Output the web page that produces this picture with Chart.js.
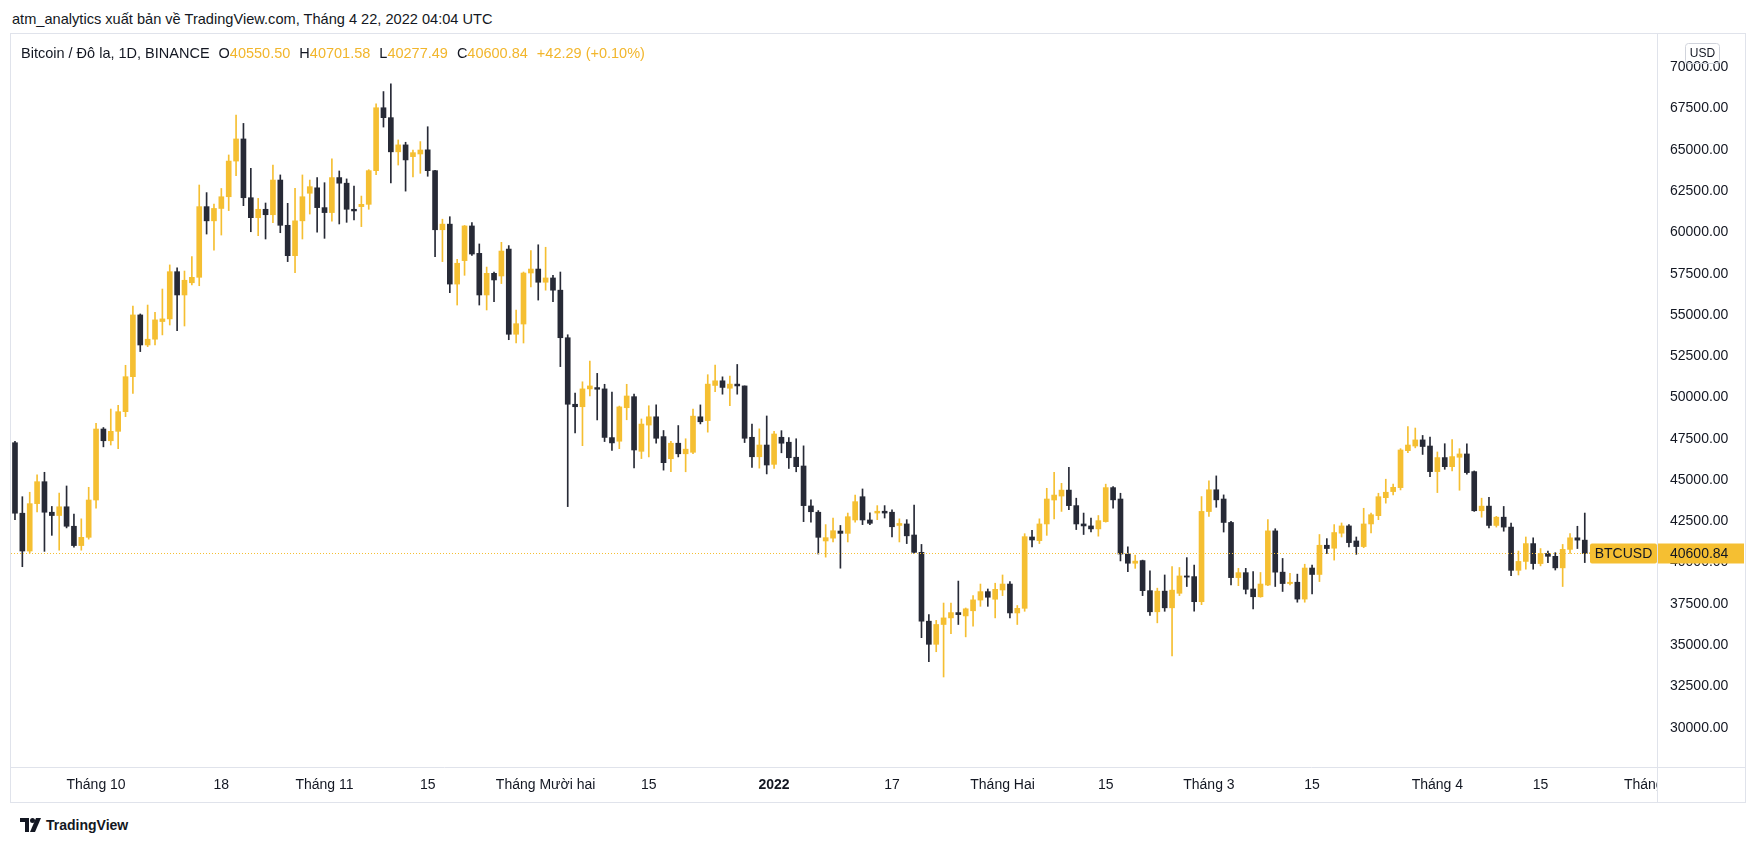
<!DOCTYPE html>
<html>
<head>
<meta charset="utf-8">
<script src="https://cdn.jsdelivr.net/npm/chart.js@4.4.1/dist/chart.umd.min.js"></script>
<style>
  html, body { margin: 0; padding: 0; background: #fff; }
  body { width: 1758px; height: 847px; position: relative; overflow: hidden;
         font-family: "Liberation Sans", Arial, sans-serif; color: #131722; }
  #header { position: absolute; left: 12px; top: 11px; font-size: 14.6px; white-space: nowrap; }
  #frame { position: absolute; left: 10px; top: 33px; width: 1736px; height: 770px;
           border: 1px solid #e0e3eb; box-sizing: border-box; }
  #chartWrap { position: absolute; left: 0; top: 0; width: 1734px; height: 768px; }
  #legend { position: absolute; left: 10px; top: 11px; font-size: 14.5px; white-space: nowrap; }
  #legend .v { color: #f2b62c; }
  #legend .g { margin-left: 9px; }
  #footer { position: absolute; left: 20px; top: 817px; font-size: 14px; font-weight: bold; display: flex; align-items: center; }
  #footer svg { margin-right: 4px; }
</style>
</head>
<body>
<div id="header">atm_analytics xuất bản về TradingView.com, Tháng 4 22, 2022 04:04 UTC</div>
<div id="frame">
  <div id="chartWrap"><canvas id="chart" width="1734" height="768"></canvas></div>
  <div id="legend">Bitcoin / Đô la, 1D, BINANCE<span class="g">O<span class="v">40550.50</span></span><span class="g">H<span class="v">40701.58</span></span><span class="g">L<span class="v">40277.49</span></span><span class="g">C<span class="v">40600.84</span></span><span class="g v">+42.29 (+0.10%)</span></div>
</div>
<div id="footer"><svg width="22" height="14" viewBox="0 0 22 14"><path d="M0 0h9v14H5V4H0z" fill="#131722"/><circle cx="12.5" cy="2.5" r="2.5" fill="#131722"/><path d="M16 0h5l-6 14h-5z" fill="#131722"/></svg>TradingView</div>

<script>
// daily candles, BINANCE BTCUSD, 2021-09-20 .. 2022-04-22
const startDate = '2021-09-20';

const opens = [
  47260, 42990, 40700, 43570, 44900, 43050, 42850, 43380, 42200, 41030, 41530,
  43790, 48090, 47380, 47950, 49140, 51260, 55000, 53180, 53530, 54600, 54760, 57620, 56210, 56950, 57280, 61560, 60700, 61450, 62160, 64320, 65660, 62100, 60890, 61400, 61070, 63170, 60430, 58590, 60700, 62370, 62700,
  61500, 61200, 63320, 62980, 61400, 61560, 61700, 63740, 67550, 66950, 64880, 65300, 64590, 64750, 65000, 63740, 60160, 60500, 56870, 58290, 60390, 58730, 56210, 57520, 57360, 58990, 53830, 54450, 57540, 57780,
  56980, 57240, 56500, 53620, 49590, 49440, 50520, 50600, 50520, 47570, 47350, 49380, 50050, 46740, 48330, 48830, 47630, 46290, 47230, 46590, 46680, 48830, 48600, 50730, 51010, 50560, 50810, 50700, 47590, 46410, 47120,
  45950, 47590, 47290, 46380, 45850, 43430, 43050, 41310, 41480, 41910, 41770, 42580, 43990, 42580, 43000, 43110, 43050, 42250, 42340, 41670, 40620, 36450, 35050, 36250, 36650, 36970, 36770, 37080, 37730, 38240, 37780,
  38340, 38700, 36950, 37230, 41550, 41330, 42340, 43790, 44030, 44390, 43450, 42340, 42220, 42040, 42480, 44540, 43850, 40520, 39960, 40120, 38300, 37020, 38270, 37260, 38140, 39190, 39150, 37630,
  43090, 44410, 43850, 42430, 39090, 39390, 38400, 37930, 38640, 41920, 39420, 38730, 38810, 37790, 39670, 39280, 41050, 40870, 41780, 42220, 41310, 40970, 42340, 42840, 43930, 44300, 44540, 46780, 47060, 47430, 47060,
  45510, 46360, 45810, 46380, 46580, 45510, 43140, 43420, 42250, 42750, 42150, 39530, 40070, 41150, 39940, 40550, 40380, 39680, 40800, 41500, 41360, 40550.50
];
const highs = [
  47350, 43990, 44260, 45310, 45470, 43400, 44210, 44640, 42940, 42650, 44560,
  48440, 48180, 49300, 49530, 51950, 55540, 55060, 55600, 55160, 56570, 58030, 57860, 57660, 58530, 62870, 62410, 61720, 62660, 64690, 67110, 66600, 63880, 62060, 61780, 64080, 63480, 61760, 62670, 63480, 63170, 63320,
  63010, 64450, 63720, 63240, 62810, 62200, 63800, 67790, 68530, 69000, 65600, 65460, 64990, 65500, 66400, 63760, 60800, 60950, 58370, 60420, 60600, 59300, 57900, 57600, 59400, 59200, 55300, 57600, 58900, 59250,
  59100, 57400, 57600, 53800, 50270, 50950, 52210, 51460, 50800, 50330, 49480, 50800, 50200, 48700, 49500, 49550, 48000, 47350, 48300, 47500, 49300, 49550, 51380, 51970, 51250, 51300, 52000, 50700, 48390, 48100, 48880,
  47950, 47990, 47570, 47500, 47070, 43800, 43150, 42300, 42700, 42250, 43000, 44090, 44460, 43020, 43450, 43450, 43200, 42650, 42600, 43490, 41100, 36850, 36500, 37550, 37550, 38880, 37250, 38000, 38700, 38400, 38750,
  39250, 38850, 37400, 41750, 41950, 42650, 44500, 45470, 44800, 45770, 43900, 43000, 42700, 42850, 44750, 44600, 44200, 40950, 40450, 40150, 39500, 38450, 39250, 39760, 39700, 40300, 39850, 44000,
  44950, 45250, 44100, 42500, 39650, 39650, 39450, 39400, 42600, 42050, 40250, 39350, 39300, 39900, 39850, 41700, 41450, 42300, 42400, 42300, 41550, 43290, 43000, 44200, 45050, 44750, 46900, 48240, 48150, 47700, 47600,
  46700, 47200, 47450, 46900, 47200, 45550, 43900, 43950, 42800, 43400, 42400, 40700, 41550, 41500, 40850, 40700, 40600, 41100, 41750, 42200, 43000, 40701.58
];
const lows = [
  42600, 39750, 40570, 43070, 40680, 41650, 40750, 42100, 40930, 40750, 41420,
  43290, 47010, 47120, 46900, 48840, 50250, 52780, 53080, 53180, 53790, 54390, 54050, 54330, 56820, 56770, 59900, 58930, 59840, 61320, 63440, 61620, 60040, 59800, 59600, 60590, 59980, 58230, 57560, 59600, 61110, 60010,
  59640, 60680, 60510, 60610, 60750, 60350, 61400, 63500, 66380, 63000, 64080, 62500, 63360, 63580, 63400, 58530, 58230, 56350, 55600, 57400, 58600, 55600, 55300, 55800, 56900, 53500, 53300, 53300, 56700, 55900,
  56500, 55800, 51870, 43390, 47850, 47080, 50100, 48640, 47330, 46800, 46900, 48650, 45730, 46300, 46400, 47240, 45600, 45500, 46400, 45500, 46600, 48400, 47900, 50350, 50200, 49500, 50200, 47270, 45770, 45720, 45370,
  45700, 46650, 45700, 45500, 42480, 42450, 40520, 40330, 41250, 39660, 41250, 42450, 42300, 42290, 42600, 42700, 41550, 41250, 41150, 40550, 35450, 34000, 34600, 33070, 35700, 36250, 35500, 36150, 37350, 37350, 36650,
  38000, 36650, 36250, 37050, 40950, 41150, 41650, 42650, 43100, 43200, 42000, 41700, 41850, 41600, 42450, 43300, 40100, 39450, 39650, 38000, 36800, 36350, 37050, 34350, 38000, 38550, 37050, 37450,
  42800, 43350, 41850, 38650, 38600, 38100, 37200, 37900, 38600, 38550, 38250, 38650, 37600, 37600, 38100, 38850, 40550, 40150, 41550, 40950, 40500, 40900, 41800, 42600, 43600, 44100, 44400, 46650, 46950, 46550, 45200,
  44240, 45650, 45550, 44380, 45350, 43100, 42750, 42100, 42150, 41900, 39200, 39250, 39600, 39600, 39800, 39990, 39550, 38550, 40550, 40850, 40000, 40277.49
];
const closes = [
  42990, 40700, 43570, 44900, 43050, 42850, 43380, 42200, 41030, 41530, 43790,
  48090, 47380, 47950, 49140, 51260, 55000, 53180, 53530, 54700, 54760, 57620, 56210, 57100, 57280, 61560, 60700, 61450, 62160, 64320, 65660, 62100, 60890, 61400, 61070, 63170, 60430, 58590, 60700, 62160, 62770, 61500,
  61200, 63320, 62980, 61400, 61300, 61700, 63740, 67550, 66950, 64880, 65300, 64390, 64830, 64990, 63740, 60160, 60500, 56870, 58130, 60390, 58690, 56210, 57520, 57120, 58870, 53830, 54470, 57540, 57780, 56980,
  57240, 56500, 53620, 49590, 49440, 50520, 50700, 50500, 47580, 47250, 49430, 50090, 46820, 48390, 48830, 47530, 46050, 47230, 46590, 46870, 48870, 48530, 50810, 51010, 50610, 50810, 50700, 47530, 46410, 47120, 45910,
  47790, 47230, 46350, 45810, 43450, 43080, 41530, 41510, 41930, 41770, 42780, 43690, 42580, 42380, 43110, 43000, 42170, 42370, 41620, 40620, 36450, 35050, 36250, 36650, 36970, 36850, 37200, 37740, 38240, 37900, 38380,
  38700, 36950, 37230, 41570, 41370, 42340, 43850, 44090, 44390, 43450, 42340, 42220, 42040, 42540, 44540, 43800, 40520, 39960, 40090, 38300, 37020, 38270, 37260, 38330, 39190, 39120, 37630, 43100,
  44410, 43800, 42430, 39090, 39390, 38380, 37930, 38700, 41920, 39420, 38730, 38810, 37790, 39670, 39280, 41050, 40850, 41820, 42220, 41210, 40970, 42340, 42900, 43990, 44260, 44560, 46820, 47120, 47430, 47030, 45510,
  46360, 45810, 46420, 46580, 45450, 43140, 43420, 42250, 42750, 42150, 39530, 40070, 41150, 39940, 40550, 40380, 39680, 40800, 41500, 41360, 40550, 40600.84
];

// x axis labels (day index from startDate)
const xTickDays = [11, 28, 42, 56, 72, 86, 103, 119, 134, 148, 162, 176, 193, 207, 221.8];
const xTickLabels = ['Tháng 10', '18', 'Tháng 11', '15', 'Tháng Mười hai', '15', '2022', '17', 'Tháng Hai', '15', 'Tháng 3', '15', 'Tháng 4', '15', 'Tháng 5'];
// price axis labels
const yTicks = [30000, 32500, 35000, 37500, 40000, 42500, 45000, 47500, 50000, 52500, 55000, 57500, 60000, 62500, 65000, 67500, 70000];

const lastPrice = closes[closes.length - 1];
const symbolName = 'BTCUSD';

const UP = '#f5bf32';
const DOWN = '#272a36';
const AXIS_TEXT = '#131722';
const LINE = '#e0e3eb';
const FONT = '"Liberation Sans", Arial, sans-serif';
const LABEL_PAD = 13;

const wickData = [], bodyData = [], colors = [];
for (let i = 0; i < closes.length; i++) {
    wickData.push({ x: i, y: [lows[i], highs[i]] });
    bodyData.push({ x: i, y: [Math.min(opens[i], closes[i]), Math.max(opens[i], closes[i])] });
    colors.push(closes[i] >= opens[i] ? UP : DOWN);
}

// extra drawing: time labels (clipped like TradingView), last price line and labels
const overlay = {
    id: 'overlay',
    afterDraw(chart) {
        const ctx = chart.ctx;
        const area = chart.chartArea;
        const xs = chart.scales.x;
        const ys = chart.scales.y;

        // time axis labels
        ctx.save();
        ctx.beginPath();
        ctx.rect(area.left, area.bottom, area.right - area.left, chart.height - area.bottom);
        ctx.clip();
        ctx.fillStyle = AXIS_TEXT;
        ctx.textAlign = 'center';
        ctx.textBaseline = 'middle';
        xTickDays.forEach((d, k) => {
            const bold = xTickLabels[k] === '2022';
            ctx.font = (bold ? 'bold ' : '') + '14px ' + FONT;
            ctx.fillText(xTickLabels[k], xs.getPixelForValue(d), area.bottom + 18);
        });
        ctx.restore();

        // separators
        ctx.save();
        ctx.strokeStyle = LINE;
        ctx.lineWidth = 1;
        ctx.beginPath();
        ctx.moveTo(Math.round(area.right) + 0.5, 0);
        ctx.lineTo(Math.round(area.right) + 0.5, chart.height);
        ctx.moveTo(0, Math.round(area.bottom) + 0.5);
        ctx.lineTo(chart.width, Math.round(area.bottom) + 0.5);
        ctx.stroke();
        ctx.restore();

        // last price dotted line
        const py = Math.round(ys.getPixelForValue(lastPrice)) + 0.5;
        ctx.save();
        ctx.strokeStyle = UP;
        ctx.lineWidth = 1;
        ctx.setLineDash([1, 2]);
        ctx.beginPath();
        ctx.moveTo(area.left, py);
        ctx.lineTo(area.right, py);
        ctx.stroke();
        ctx.restore();

        // price label on axis and symbol label
        ctx.save();
        ctx.font = '14px ' + FONT;
        ctx.textBaseline = 'middle';
        ctx.fillStyle = UP;
        ctx.fillRect(area.right + 1, py - 10, 86, 20);
        const symW = 67;
        ctx.beginPath();
        ctx.roundRect(area.right - symW, py - 10, symW, 20, 2);
        ctx.fill();
        ctx.fillStyle = AXIS_TEXT;
        ctx.textAlign = 'left';
        ctx.fillText(lastPrice.toFixed(2), area.right + LABEL_PAD, py + 1);
        ctx.textAlign = 'center';
        ctx.fillText(symbolName, area.right - symW / 2, py + 1);

        // currency box
        ctx.strokeStyle = '#d1d4dc';
        ctx.beginPath();
        ctx.roundRect(area.right + 28.5, 9.5, 34, 20, 3);
        ctx.stroke();
        ctx.font = '12px ' + FONT;
        ctx.fillText('USD', area.right + 45.5, 20);
        ctx.restore();
    }
};

const chart = new Chart(document.getElementById('chart'), {
    type: 'bar',
    data: {
        datasets: [
            { data: wickData, backgroundColor: colors, barThickness: 1, grouped: false, order: 2 },
            { data: bodyData, backgroundColor: colors, barThickness: 5, grouped: false, minBarLength: 1, order: 1 }
        ]
    },
    options: {
        responsive: false,
        animation: false,
        devicePixelRatio: 1,
        layout: { padding: 0 },
        plugins: { legend: { display: false }, tooltip: { enabled: false } },
        scales: {
            x: {
                type: 'linear',
                offset: false,
                min: -0.54,
                max: 222.8,
                grid: { display: false, drawTicks: false },
                border: { display: false },
                ticks: { display: false },
                afterFit(s) { s.height = 35; s.paddingLeft = 0; s.paddingRight = 0; }
            },
            y: {
                position: 'right',
                min: 27618,
                max: 72017,
                grid: { display: false, drawTicks: false, tickLength: 0 },
                border: { display: false },
                afterBuildTicks(s) { s.ticks = yTicks.map(v => ({ value: v })); },
                ticks: {
                    color: AXIS_TEXT,
                    padding: LABEL_PAD,
                    font: { size: 14, family: FONT },
                    callback: v => Number(v).toFixed(2)
                },
                afterFit(s) { s.width = 88; s.paddingTop = 0; s.paddingBottom = 0; }
            }
        }
    },
    plugins: [overlay]
});
</script>
</body>
</html>
